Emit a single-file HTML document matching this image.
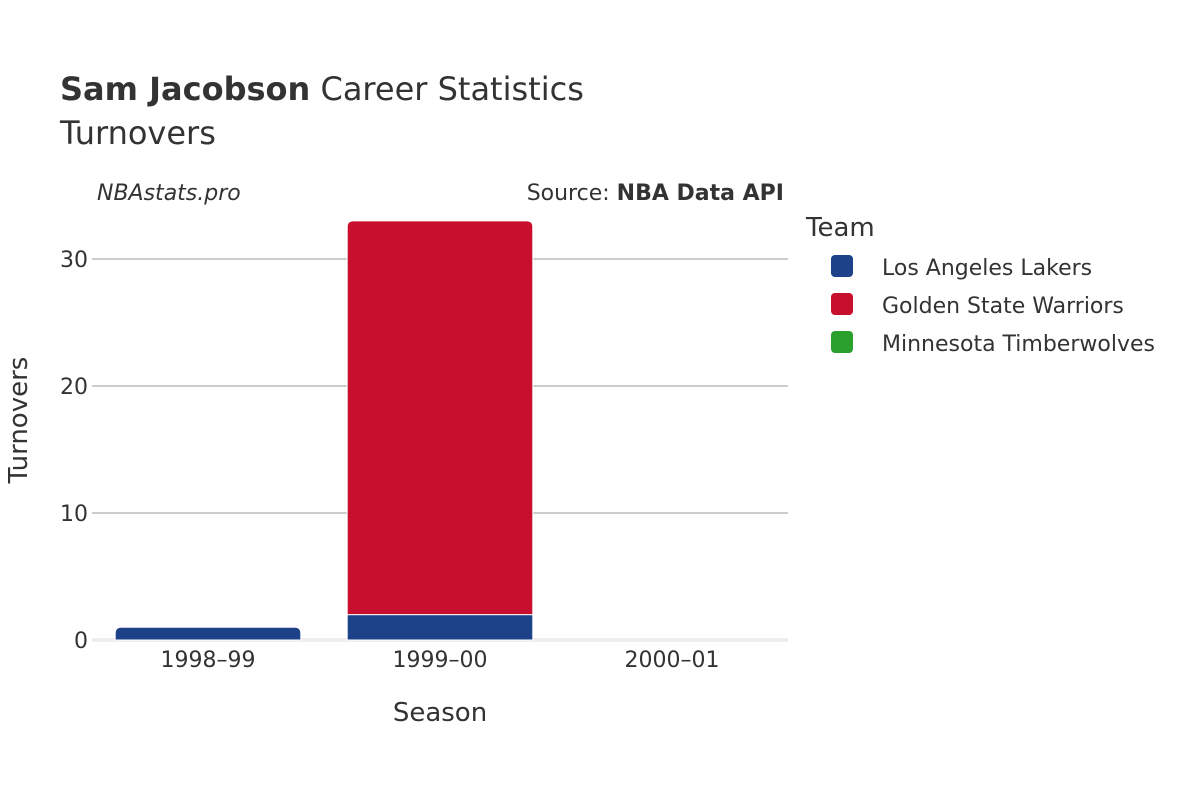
<!DOCTYPE html>
<html><head><meta charset="utf-8"><style>
body{margin:0;background:#fff;font-family:"Liberation Sans","DejaVu Sans",sans-serif}
svg text{font-family:"DejaVu Sans","Liberation Sans",sans-serif}
</style></head><body>
<svg id="chart" width="1200" height="800">
<text x="60" y="100" font-size="32" fill="#333"><tspan font-weight="bold">Sam Jacobson</tspan> Career Statistics</text>
<text x="60" y="144" font-size="32" fill="#333">Turnovers</text>
<text x="97" y="200" font-size="22" font-style="italic" fill="#333">NBAstats.pro</text>
<text x="784" y="200" font-size="22" text-anchor="end" fill="#333">Source: <tspan font-weight="bold">NBA Data API</tspan></text>
<g id="grid"></g>
<rect x="92" y="638" width="696" height="4" fill="#eee"/>
<g id="bars"></g>
<g id="xlabels"></g>
<text x="440" y="721" font-size="26" text-anchor="middle" fill="#333">Season</text>
<text transform="translate(27,420) rotate(-90)" font-size="26" text-anchor="middle" fill="#333">Turnovers</text>
<text x="806" y="236" font-size="26" fill="#333">Team</text>
<g id="legend"></g>
</svg>
<script>
const seasons=["1998–99","1999–00","2000–01"];
const teams=["Los Angeles Lakers","Golden State Warriors","Minnesota Timberwolves"];
const colors=["#1d428a","#c8102e","#2ca02c"];
const lakers=[1,2,0];
const warriors=[0,31,0];
const wolves=[0,0,0];
const yTicks=[0,10,20,30];
const series=[lakers,warriors,wolves];
const NS="http://www.w3.org/2000/svg";
const x0=92,x1=788,y0=640,pxPer=12.7;
const y=v=>y0-v*pxPer;
const band=(x1-x0)/seasons.length;
const grid=document.getElementById('grid');
yTicks.forEach(t=>{
  if(t>0){const l=document.createElementNS(NS,'line');
  l.setAttribute('x1',x0);l.setAttribute('x2',x1);l.setAttribute('y1',y(t));l.setAttribute('y2',y(t));
  l.setAttribute('stroke','#999');l.setAttribute('stroke-width','1');
  
  
  grid.appendChild(l);}
  const tx=document.createElementNS(NS,'text');
  tx.setAttribute('x',x0-4);tx.setAttribute('y',y(t)+8);tx.setAttribute('text-anchor','end');
  tx.setAttribute('font-size','22');tx.setAttribute('fill','#333');tx.textContent=t;
  
  
  grid.appendChild(tx);
});
const bars=document.getElementById('bars');
const xl=document.getElementById('xlabels');
seasons.forEach((s,i)=>{
  const cx=x0+band*(i+0.5),w=band*0.8;
  let base=0;
  const tops=series.map(a=>a[i]);
  let lastIdx=-1;tops.forEach((v,k)=>{if(v>0)lastIdx=k;});
  series.forEach((arr,k)=>{
    const v=arr[i];if(v<=0)return;
    const yt=y(base+v),yb=y(base);
    const p=document.createElementNS(NS,'path');
    const r=k===lastIdx?Math.min(6,(yb-yt)/2):0,xl_=cx-w/2,xr=cx+w/2;
    p.setAttribute('d',`M${xl_},${yb}V${yt+r}Q${xl_},${yt} ${xl_+r},${yt}H${xr-r}Q${xr},${yt} ${xr},${yt+r}V${yb}Z`);
    p.setAttribute('fill',colors[k]);p.setAttribute('stroke','#fff');p.setAttribute('stroke-width','1');
    
    
    bars.appendChild(p);
    base+=v;
  });
  const t=document.createElementNS(NS,'text');
  t.setAttribute('x',cx);t.setAttribute('y',667);t.setAttribute('text-anchor','middle');
  t.setAttribute('font-size','22');t.setAttribute('fill','#333');t.textContent=s;
  
  
  xl.appendChild(t);
});
const lg=document.getElementById('legend');
teams.forEach((n,k)=>{
  const yy=266+k*38;
  const r=document.createElementNS(NS,'rect');
  r.setAttribute('x',831);r.setAttribute('y',yy-11);r.setAttribute('width',22);r.setAttribute('height',22);r.setAttribute('rx',4);
  r.setAttribute('fill',colors[k]);
  
  
  lg.appendChild(r);
  const t=document.createElementNS(NS,'text');
  t.setAttribute('x',882);t.setAttribute('y',yy+9);t.setAttribute('font-size','22');t.setAttribute('fill','#333');t.textContent=n;
  
  
  lg.appendChild(t);
});
</script>
</body></html>
